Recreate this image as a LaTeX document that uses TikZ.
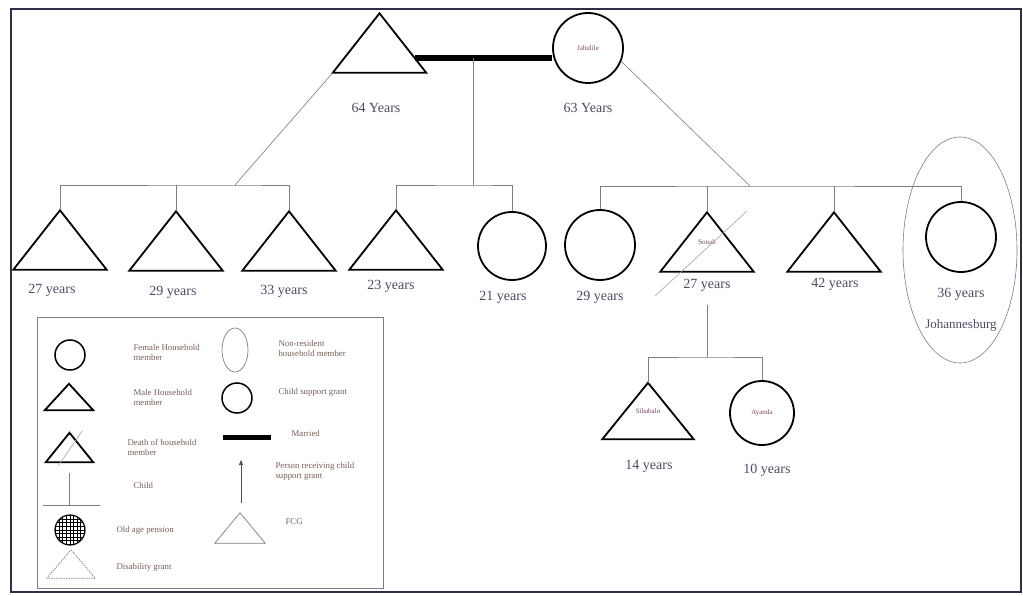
\documentclass[tikz,border=0pt]{standalone}
\usepackage{fontspec}
\setmainfont{Liberation Serif}
\usetikzlibrary{shapes.geometric,calc,arrows.meta}
\definecolor{agecol}{RGB}{80,72,100}
\definecolor{namecol}{RGB}{120,70,100}
\definecolor{legcol}{RGB}{120,95,85}
\definecolor{linecol}{RGB}{125,125,130}
\definecolor{framecol}{RGB}{45,48,70}
\newcommand\drawtri[2][triline]{\draw[#1] (#2.north) -- (#2.south east) -- (#2.south west) -- cycle;}
\tikzset{
  person/.style={circle, draw=black, line width=1.8pt, minimum size=70pt, inner sep=0pt, font=\fontsize{7}{8}\selectfont, text=namecol},
  tribox/.style={rectangle, draw=none, inner sep=0pt, minimum width=93pt, minimum height=59pt, font=\fontsize{7}{8}\selectfont, text=namecol},
  triline/.style={draw=black, line width=1.8pt, line join=miter},
  thintri/.style={draw=linecol, line width=0.7pt, line join=miter},
  dashtri/.style={draw=linecol, line width=0.7pt, dash pattern=on 1.5pt off 1pt},
  conn/.style={draw=linecol, line width=0.6pt},
  married/.style={line width=6pt, draw=black},
  deathline/.style={draw=linecol!70, line width=0.6pt},
  age/.style={font=\fontsize{14}{16}\selectfont, text=agecol},
  legtext/.style={font=\fontsize{8.8}{10}\selectfont, text=legcol, align=left, anchor=west},
  legcirc/.style={circle, draw=black, line width=1.5pt, minimum size=30pt, inner sep=0pt},
}
\begin{document}
\begin{tikzpicture}[x=1pt,y=-1pt]
\useasboundingbox (0,0) rectangle (1023,596);
\fill[white] (0,0) rectangle (1023,596);
\draw[framecol, line width=1.8pt] (11,9) rectangle (1021,592);
\draw[framecol, line width=2.6pt] (11,9) -- (11,592);

% parents
\node[tribox] (father) at (379.5,43) {};
\drawtri{father}
\node[person] (mother) at (588,48) {Jabulile};
\node[age] (lfather) at (376,108) {64 Years};
\node[age] (lmother) at (588,108) {63 Years};

% children row
\node[tribox] (t1) at (60,240) {};
\node[tribox] (t2) at (176,241) {};
\node[tribox] (t3) at (289,241) {};
\node[tribox] (t4) at (396,240) {};
\node[person, minimum size=68pt] (c5) at (512,246) {};
\node[person] (c6) at (600,245) {};
\node[tribox] (t7) at (707,242) {Sonah};
\node[tribox] (t8) at (834,242) {};
\node[person] (c9) at (961,237) {};
\foreach \t in {t1,t2,t3,t4,t7,t8} {\drawtri{\t}}

\node[age] (l1) at (52,290) {27 years};
\node[age] (l2) at (173,292) {29 years};
\node[age] (l3) at (284,291) {33 years};
\node[age] (l4) at (391,286) {23 years};
\node[age] (l5) at (503,297) {21 years};
\node[age] (l6) at (600,297) {29 years};
\node[age] (l7) at (707,285) {27 years};
\node[age] (l8) at (835,284) {42 years};
\node[age] (l9) at (961,294) {36 years};
\node[age, font=\fontsize{13}{15}\selectfont] (l9b) at (961,325) {Johannesburg};

\node[ellipse, draw=linecol, line width=0.6pt, minimum width=114pt, minimum height=226pt, inner sep=0pt] (jhb) at (960,250) {};

% grandchildren
\node[tribox, minimum width=91pt, minimum height=56pt] (t10) at (648,411) {Sibabalo};
\drawtri{t10}
\node[person, minimum size=64pt] (c11) at (762,413) {Ayanda};
\node[age] (l10) at (649,466) {14 years};
\node[age] (l11) at (767,470) {10 years};

% marriage
\coordinate (mar) at ($(father.south east)!0.25!(father.north)$);
\draw[married] (mar) -- (mar -| mother.west);
\coordinate (marmid) at (473,58);
\coordinate (barL) at (235,185);
\coordinate (barM) at (473,185);
\coordinate (barR) at (750,186);
\coordinate (barS) at (707,357);

\draw[conn] (marmid) -- (barM);
\draw[conn] (t4.north) |- (barM) -| (c5.north);
\draw[conn] (t1.north) |- (barL) -| (t3.north);
\draw[conn] (t2.north) -- (t2.north |- barL);
\draw[conn] (barL) -- (father.south west);
\draw[conn] (c6.north) |- (barR) -| (c9.north);
\draw[conn] (t7.north) -- (t7.north |- barR);
\draw[conn] (t8.north) -- (t8.north |- barR);
\draw[conn] (barR) -- (mother.-22);
\draw[conn] ([yshift=-10pt]l7.south) -- (barS);
\draw[conn] (t10.north) |- (barS) -| (c11.north);
\draw[deathline] ([shift={(40,-31)}]t7.center) -- ([shift={(-52,54)}]t7.center);

% legend
\draw[linecol, line width=0.8pt] (37,317) rectangle (383,588);
\node[legcirc] (kf) at (70,355) {};
\node[legtext] (kft) at (130,352) {Female Household\\member};
\node[ellipse, draw=linecol, line width=0.7pt, minimum width=26pt, minimum height=44pt, inner sep=0pt] (knr) at (235,350) {};
\node[legtext] (knrt) at (275,348) {Non-resident\\household member};
\node[tribox, minimum width=48pt, minimum height=26pt] (km) at (69,397) {};
\drawtri{km}
\node[legtext] (kmt) at (130,397) {Male Household\\member};
\node[legcirc] (kc) at (237,398) {};
\node[legtext] (kct) at (275,392) {Child support grant};
\node[tribox, minimum width=47pt, minimum height=29pt] (kd) at (69.5,447.5) {};
\drawtri{kd}
\draw[deathline] ([shift={(13,-17)}]kd.center) -- ([shift={(-11,18)}]kd.center);
\node[legtext] (kdt) at (124,447) {Death of household\\member};
\coordinate (kma) at (223,437);
\coordinate (kmb) at (271,437);
\draw[line width=5pt, black] (kma) -- (kmb);
\node[legtext] (kmat) at (288,433) {Married};
\coordinate (kch1) at (69,473);
\coordinate (kch2) at (69,505);
\coordinate (kchl) at (43,505);
\coordinate (kchr) at (100,505);
\draw[conn] (kch1) -- (kch2);
\draw[conn] (kchl) -- (kchr);
\node[legtext] (kcht) at (130,485) {Child};
\node[circle, draw=black, line width=1.2pt, minimum size=30pt, inner sep=0pt,
  path picture={\draw[black, line width=0.9pt, step=3.6pt] ([xshift=-1pt,yshift=-1pt]path picture bounding box.south west) grid (path picture bounding box.north east);}] (ko) at (70,530) {};
\node[legtext] (kot) at (113,530) {Old age pension};
\node[tribox, minimum width=48pt, minimum height=28pt] (kdis) at (71,564) {};
\drawtri[dashtri]{kdis}
\node[legtext] (kdist) at (113,567) {Disability grant};
\coordinate (ka1) at (241,503);
\coordinate (ka2) at (241,460);
\draw[conn, -{Triangle[length=5pt,width=4pt]}, draw=black!70, fill=black] (ka1) -- (ka2);
\node[legtext] (kat) at (272,471) {Person receiving child\\support grant};
\node[tribox, minimum width=50pt, minimum height=30pt] (kfcg) at (240,528) {};
\drawtri[thintri]{kfcg}
\node[legtext] (kfcgt) at (282,522) {FCG};
\end{tikzpicture}
\end{document}
